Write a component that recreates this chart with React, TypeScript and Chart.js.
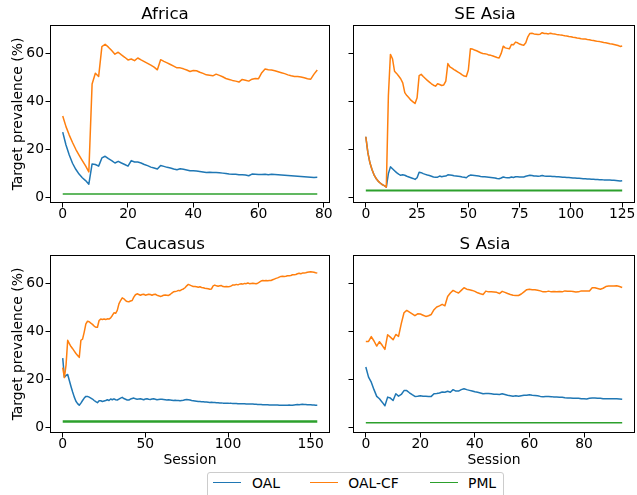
import React, { useEffect, useRef } from 'react';
import { Chart, registerables } from 'chart.js';

Chart.register(...registerables);

const FONT = "'DejaVu Sans', 'Liberation Sans', sans-serif";
const BLUE = '#1f77b4';
const ORANGE = '#ff7f0e';
const GREEN = '#2ca02c';

// ---------- data ----------
const seriesNames = ['OAL', 'OAL-CF', 'PML'];
const yTicks = [0, 20, 40, 60];
const yMin = -2.2;
const yMax = 71.7;

// Africa (sessions 0..78)
const africaTitle = 'Africa';
const africaXTicks = [0, 20, 40, 60, 80];
const africaOAL = [
  27.2, 21.9, 17.7, 14.3, 11.8, 9.8, 8.3, 7.1, 5.6, 14.0,
  13.8, 13.1, 16.5, 17.2, 16.2, 15.4, 14.4, 15.1, 14.4, 13.8,
  13.1, 15.4, 14.8, 14.8, 14.4, 13.8, 13.3, 12.7, 12.3, 11.9,
  13.4, 13.0, 12.6, 12.3, 11.9, 11.6, 12.0, 11.8, 11.5, 11.2,
  11.2, 11.1, 10.9, 10.7, 10.5, 10.6, 10.5, 10.5, 10.4, 10.2,
  10.0, 9.8, 9.7, 9.7, 9.5, 9.5, 9.4, 9.1, 9.8, 9.7,
  9.6, 9.6, 9.7, 9.5, 9.7, 9.6, 9.5, 9.4, 9.3, 9.2,
  9.1, 9.0, 8.9, 8.8, 8.7, 8.6, 8.5, 8.4, 8.5,
];
const africaOALCF = [
  33.9, 29.5, 26.0, 22.9, 20.1, 17.7, 15.4, 13.2, 10.7, 47.2,
  51.7, 50.3, 62.7, 63.7, 62.5, 61.1, 59.6, 60.4, 59.3, 58.3,
  57.2, 57.6, 56.9, 58.0, 57.2, 56.5, 55.8, 55.0, 54.2, 53.1,
  57.3, 56.6, 56.0, 55.3, 54.6, 53.9, 53.9, 53.5, 53.0, 52.4,
  52.8, 52.7, 52.1, 51.6, 51.0, 50.8, 50.6, 51.3, 50.8, 50.2,
  49.5, 49.1, 48.7, 48.4, 48.0, 49.1, 48.8, 48.4, 49.2, 49.5,
  49.4, 51.9, 53.4, 53.1, 53.0, 52.7, 52.3, 51.9, 51.5, 51.0,
  50.6, 50.3, 50.3, 50.1, 49.8, 49.4, 49.2, 51.3, 53.0,
];
const africaPML = 1.5;

// SE Asia (sessions 0..125)
const seAsiaTitle = 'SE Asia';
const seAsiaXTicks = [0, 25, 50, 75, 100, 125];
const seAsiaOAL = [
  25.3, 18.7, 14.5, 11.7, 9.5, 8.0, 6.9, 6.1, 5.4, 5.0,
  4.4, 10.0, 12.8, 12.0, 11.2, 10.4, 9.8, 9.3, 9.5, 9.3,
  8.9, 8.6, 8.3, 8.0, 7.6, 8.3, 10.6, 10.4, 10.0, 9.7,
  9.4, 9.2, 8.9, 8.6, 8.5, 8.5, 9.0, 8.7, 8.9, 9.0,
  9.5, 9.4, 9.3, 9.1, 9.0, 8.9, 8.8, 8.6, 8.5, 8.3,
  9.0, 9.4, 9.3, 9.2, 9.1, 9.0, 8.8, 8.7, 8.7, 8.6,
  8.5, 8.4, 8.3, 8.2, 8.0, 7.9, 8.2, 8.6, 8.4, 8.3,
  8.3, 8.6, 8.4, 8.7, 8.7, 8.6, 8.6, 8.6, 8.9, 9.1,
  9.3, 9.2, 9.0, 9.0, 8.9, 9.0, 9.2, 9.0, 8.9, 8.9,
  8.9, 8.8, 8.8, 8.7, 8.7, 8.6, 8.5, 8.5, 8.4, 8.4,
  8.3, 8.2, 8.2, 8.1, 8.1, 8.0, 7.9, 7.9, 7.8, 7.8,
  7.7, 7.7, 7.6, 7.6, 7.5, 7.5, 7.4, 7.4, 7.3, 7.3,
  7.2, 7.2, 7.1, 7.0, 6.9, 7.0,
];
const seAsiaOALCF = [
  25.3, 18.7, 14.5, 11.7, 9.5, 8.0, 6.9, 6.1, 5.4, 5.0,
  4.4, 42.2, 59.5, 57.7, 52.5, 51.6, 50.5, 49.4, 47.7, 43.6,
  42.4, 41.5, 40.5, 39.8, 39.1, 41.5, 50.7, 51.2, 50.3, 49.5,
  48.7, 48.0, 47.3, 46.7, 46.3, 47.3, 47.0, 46.6, 46.8, 48.4,
  55.7, 54.3, 53.8, 53.2, 52.7, 52.1, 51.6, 51.0, 50.5, 50.3,
  53.0, 61.8, 61.7, 61.3, 61.0, 60.6, 60.2, 59.9, 59.8, 59.6,
  59.2, 59.1, 58.8, 58.5, 58.2, 58.0, 59.9, 62.9, 62.2, 62.0,
  61.8, 63.6, 63.5, 64.6, 64.3, 63.8, 63.5, 63.3, 64.3, 66.8,
  68.2, 68.3, 68.0, 67.9, 67.8, 67.9, 68.5, 68.2, 68.2, 68.0,
  68.3, 68.1, 68.0, 67.8, 67.7, 67.5, 67.4, 67.2, 67.1, 66.9,
  66.8, 66.6, 66.5, 66.3, 66.2, 66.0, 65.9, 65.9, 65.7, 65.6,
  65.4, 65.3, 65.1, 64.9, 64.8, 64.6, 64.4, 64.3, 64.1, 63.9,
  63.8, 63.6, 63.4, 63.2, 62.8, 63.0,
];
const seAsiaPML = 3.0;

// Caucasus (sessions 0..154)
const caucasusTitle = 'Caucasus';
const caucasusXTicks = [0, 50, 100, 150];
const caucasusOAL = [
  28.9, 21.0, 21.7, 22.1, 19.6, 17.1, 14.8, 12.7, 11.0, 10.0,
  9.3, 10.2, 11.3, 12.3, 13.0, 13.0, 12.7, 12.3, 11.9, 11.3,
  10.8, 10.4, 11.2, 11.2, 10.9, 11.1, 11.3, 11.6, 11.3, 11.9,
  11.6, 12.0, 11.6, 11.5, 11.9, 12.3, 12.6, 12.1, 11.8, 11.5,
  11.5, 11.9, 12.1, 12.3, 12.0, 11.8, 11.9, 12.0, 11.8, 11.6,
  11.9, 12.0, 11.8, 11.7, 11.9, 12.0, 11.8, 11.6, 11.7, 11.8,
  11.8, 11.7, 11.6, 11.5, 11.6, 11.5, 11.4, 11.3, 11.4, 11.3,
  11.3, 11.2, 11.3, 11.4, 11.6, 11.7, 11.6, 11.5, 11.3, 11.2,
  11.1, 11.0, 10.9, 10.9, 10.8, 10.8, 10.7, 10.7, 10.6, 10.5,
  10.6, 10.5, 10.5, 10.4, 10.4, 10.3, 10.3, 10.2, 10.2, 10.2,
  10.2, 10.1, 10.1, 10.0, 10.0, 10.0, 9.9, 9.9, 9.9, 9.9,
  9.9, 9.8, 9.8, 9.8, 9.8, 9.8, 9.7, 9.7, 9.6, 9.6,
  9.6, 9.5, 9.5, 9.5, 9.5, 9.4, 9.4, 9.4, 9.4, 9.4,
  9.4, 9.3, 9.3, 9.3, 9.3, 9.3, 9.3, 9.4, 9.3, 9.3,
  9.4, 9.5, 9.6, 9.5, 9.6, 9.7, 9.6, 9.6, 9.5, 9.5,
  9.5, 9.4, 9.4, 9.3, 9.3,
];
const caucasusOALCF = [
  24.9, 20.8, 26.0, 36.3, 34.9, 33.7, 32.8, 31.8, 30.8, 30.0,
  29.2, 36.3, 36.8, 39.7, 43.1, 44.2, 44.0, 43.4, 42.9, 42.2,
  41.7, 41.7, 44.5, 45.1, 44.9, 45.1, 44.9, 45.2, 45.1, 45.6,
  46.6, 47.7, 47.5, 48.7, 51.4, 52.8, 53.9, 53.5, 52.8, 52.4,
  52.3, 52.6, 52.8, 54.2, 55.2, 55.6, 55.3, 55.0, 55.3, 55.4,
  55.0, 55.2, 55.4, 55.3, 55.0, 55.3, 55.4, 55.0, 54.8, 54.5,
  54.7, 55.0, 55.1, 55.0, 54.9, 55.3, 55.9, 56.4, 56.5, 56.7,
  57.0, 56.9, 57.3, 57.6, 58.1, 58.9, 59.5, 59.2, 58.9, 58.6,
  58.6, 58.5, 58.3, 58.5, 58.2, 58.1, 57.9, 57.8, 57.7, 57.5,
  57.6, 58.9, 59.2, 58.9, 58.7, 58.9, 59.0, 58.6, 58.5, 58.6,
  58.5, 58.6, 58.9, 59.3, 59.2, 59.5, 59.3, 59.6, 59.8, 59.6,
  59.9, 59.8, 60.1, 59.8, 59.9, 60.0, 59.9, 59.8, 60.0, 60.4,
  60.9, 61.1, 61.0, 61.1, 61.0, 61.1, 61.1, 61.4, 61.7, 62.0,
  62.2, 62.5, 62.8, 62.9, 62.8, 62.9, 63.1, 63.1, 63.2, 63.5,
  63.5, 63.6, 63.9, 64.1, 63.9, 64.2, 64.2, 64.3, 64.5, 64.6,
  64.7, 64.6, 64.5, 64.3, 64.2,
];
const caucasusPML = 2.6;

// S Asia (sessions 0..94)
const sAsiaTitle = 'S Asia';
const sAsiaXTicks = [0, 20, 40, 60, 80];
const sAsiaOAL = [
  25.2, 21.0, 18.9, 15.8, 13.0, 12.0, 10.6, 9.1, 12.7, 12.3,
  11.3, 14.1, 13.1, 13.8, 15.4, 15.4, 14.5, 13.7, 13.0, 13.1,
  13.3, 13.1, 13.1, 13.0, 13.0, 14.1, 14.2, 14.4, 14.8, 14.7,
  15.1, 14.7, 15.8, 15.2, 15.2, 15.8, 16.2, 15.8, 15.5, 15.2,
  14.9, 14.7, 14.4, 14.1, 14.2, 14.2, 14.1, 13.9, 13.9, 13.8,
  14.1, 13.8, 13.5, 13.3, 13.1, 13.3, 13.1, 13.3, 13.5, 13.5,
  13.7, 13.5, 13.4, 13.3, 13.0, 12.9, 13.0, 13.0, 12.9, 12.7,
  12.7, 12.6, 12.6, 12.4, 12.3, 12.3, 12.2, 12.2, 12.2, 12.0,
  12.0, 11.9, 12.2, 12.3, 12.3, 12.2, 12.2, 12.0, 12.0, 12.0,
  12.0, 12.0, 12.0, 11.9, 11.8,
];
const sAsiaOALCF = [
  35.8, 35.8, 37.8, 36.0, 33.9, 35.7, 34.2, 32.5, 38.6, 37.6,
  36.5, 38.7, 37.9, 43.2, 47.7, 48.7, 48.0, 47.3, 46.5, 47.3,
  47.2, 46.7, 46.2, 46.5, 47.0, 49.0, 50.1, 50.6, 51.2, 50.6,
  54.5, 55.9, 57.0, 56.4, 55.9, 57.0, 58.1, 57.5, 57.3, 57.0,
  56.6, 56.0, 55.6, 55.3, 56.7, 56.4, 56.4, 56.3, 56.2, 55.7,
  56.6, 56.2, 55.7, 55.3, 55.0, 54.9, 54.9, 55.5, 56.4, 57.3,
  57.5, 57.3, 57.3, 57.1, 56.8, 56.4, 56.4, 56.7, 56.4, 56.5,
  56.4, 56.5, 56.4, 56.8, 56.7, 56.7, 56.5, 56.3, 56.4, 56.8,
  56.8, 56.8, 56.8, 58.1, 58.1, 57.8, 57.5, 57.9, 58.6, 58.8,
  58.8, 58.8, 58.9, 58.6, 58.2,
];
const sAsiaPML = 2.1;

// ---------- chart helpers ----------
const boxPlugin = {
  id: 'spineBox',
  afterDraw(chart: any) {
    const { ctx, chartArea: a } = chart;
    ctx.save();
    ctx.strokeStyle = '#000';
    ctx.lineWidth = 1;
    const l = Math.round(a.left) + 0.5;
    const t = Math.round(a.top) + 0.5;
    const r = Math.round(a.right) - 0.5;
    const b = Math.round(a.bottom) - 0.5;
    ctx.strokeRect(l, t, r - l, b - t);
    ctx.restore();
  },
};

type PanelProps = {
  title: string;
  oal: number[];
  oalcf: number[];
  pml: number;
  pmlWidth: number;
  xTicks: number[];
  showYLabels: boolean;
  showXTitle: boolean;
  box: { left: number; top: number; width: number; height: number };
  area: { left: number; right: number; top: number; bottom: number };
  titleCenter: number;
};

function Panel(p: PanelProps) {
  const ref = useRef<HTMLCanvasElement | null>(null);
  useEffect(() => {
    const canvas = ref.current;
    if (!canvas) return;
    const n = p.oal.length - 1;
    const yAxisW = p.area.left - p.box.left;
    const padRight = p.box.left + p.box.width - p.area.right;
    const xAxisH = p.box.top + p.box.height - p.area.bottom;
    const titleLH = 16.7 * 1.2;
    const tPadTop = p.titleCenter - p.box.top - titleLH / 2;
    const tPadBottom = p.area.top - p.box.top - tPadTop - titleLH;
    const tickFont = { family: FONT, size: 13.9, lineHeight: 1 };
    const lineBase = {
      pointRadius: 0,
      tension: 0,
      borderJoinStyle: 'round',
      borderCapStyle: 'butt',
    };
    const chart = new Chart(canvas, {
      type: 'line',
      data: {
        datasets: [
          {
            ...lineBase,
            label: seriesNames[0],
            data: p.oal.map((v, i) => ({ x: i, y: v })),
            borderColor: BLUE,
            backgroundColor: BLUE,
            borderWidth: 1.5,
            order: 2,
          },
          {
            ...lineBase,
            label: seriesNames[1],
            data: p.oalcf.map((v, i) => ({ x: i, y: v })),
            borderColor: ORANGE,
            backgroundColor: ORANGE,
            borderWidth: 1.5,
            order: 1,
          },
          {
            ...lineBase,
            label: seriesNames[2],
            data: [
              { x: 0, y: p.pml },
              { x: n, y: p.pml },
            ],
            borderColor: GREEN,
            backgroundColor: GREEN,
            borderWidth: p.pmlWidth,
            order: 0,
          },
        ],
      },
      options: {
        responsive: false,
        maintainAspectRatio: false,
        animation: false,
        devicePixelRatio: 1,
        layout: { padding: { left: 0, right: padRight, top: 0, bottom: 0 } },
        plugins: {
          legend: { display: false },
          tooltip: { enabled: false },
          title: {
            display: true,
            text: p.title,
            color: '#000',
            font: { family: FONT, size: 16.7, weight: 'normal', lineHeight: 1.2 },
            padding: { top: tPadTop, bottom: tPadBottom },
          },
        },
        scales: {
          x: {
            type: 'linear',
            min: -0.05 * n,
            max: 1.05 * n,
            afterBuildTicks: (s: any) => {
              s.ticks = p.xTicks.map((v) => ({ value: v }));
            },
            afterFit: (s: any) => {
              s.height = xAxisH;
              s.paddingLeft = 0;
              s.paddingRight = 0;
              s.paddingTop = 0;
              s.paddingBottom = 0;
            },
            grid: {
              display: true,
              drawOnChartArea: false,
              drawTicks: true,
              tickLength: 4.5,
              color: '#000',
              lineWidth: 1,
            },
            border: { display: false },
            ticks: {
              color: '#000',
              font: tickFont,
              padding: 0,
              maxRotation: 0,
              minRotation: 0,
              autoSkip: false,
            },
            title: {
              display: p.showXTitle,
              text: 'Session',
              color: '#000',
              font: { family: FONT, size: 13.9, lineHeight: 1.2 },
              padding: { top: 0, bottom: 1.7 },
            },
          },
          y: {
            type: 'linear',
            min: yMin,
            max: yMax,
            afterBuildTicks: (s: any) => {
              s.ticks = yTicks.map((v) => ({ value: v }));
            },
            afterFit: (s: any) => {
              s.width = yAxisW;
              s.paddingLeft = 0;
              s.paddingRight = 0;
              s.paddingTop = 0;
              s.paddingBottom = 0;
            },
            grid: {
              display: true,
              drawOnChartArea: false,
              drawTicks: true,
              tickLength: 4.5,
              color: '#000',
              lineWidth: 1,
            },
            border: { display: false },
            ticks: {
              display: p.showYLabels,
              color: '#000',
              font: tickFont,
              padding: 1.5,
              autoSkip: false,
            },
            title: {
              display: p.showYLabels,
              text: 'Target prevalence (%)',
              color: '#000',
              font: { family: FONT, size: 13.9, lineHeight: 1.2 },
              padding: { top: 9.7, bottom: 0 },
            },
          },
        },
      },
      plugins: [boxPlugin],
    } as any);
    return () => chart.destroy();
  }, []);
  return (
    <canvas
      ref={ref}
      width={p.box.width}
      height={p.box.height}
      style={{
        position: 'absolute',
        left: p.box.left,
        top: p.box.top,
        width: p.box.width,
        height: p.box.height,
      }}
    />
  );
}

function LegendItem({ color, label, lineLeft, textLeft }: { color: string; label: string; lineLeft: number; textLeft: number }) {
  return (
    <>
      <div
        style={{
          position: 'absolute',
          left: lineLeft,
          top: 482,
          width: 28,
          height: 0,
          borderTop: `1.5px solid ${color}`,
        }}
      />
      <div
        style={{
          position: 'absolute',
          left: textLeft,
          top: 476.6,
          fontFamily: FONT,
          fontSize: 13.9,
          lineHeight: 1,
          color: '#000',
          whiteSpace: 'nowrap',
        }}
      >
        {label}
      </div>
    </>
  );
}

export default function App() {
  return (
    <div
      style={{
        position: 'fixed',
        left: 0,
        top: 0,
        width: 637,
        height: 495,
        background: '#fff',
        overflow: 'hidden',
      }}
    >
      <Panel
        title={africaTitle}
        oal={africaOAL}
        oalcf={africaOALCF}
        pml={africaPML}
        pmlWidth={1.5}
        xTicks={africaXTicks}
        showYLabels={true}
        showXTitle={false}
        box={{ left: 0, top: 0, width: 335, height: 228 }}
        area={{ left: 50, right: 330, top: 25, bottom: 203 }}
        titleCenter={14.5}
      />
      <Panel
        title={seAsiaTitle}
        oal={seAsiaOAL}
        oalcf={seAsiaOALCF}
        pml={seAsiaPML}
        pmlWidth={2}
        xTicks={seAsiaXTicks}
        showYLabels={false}
        showXTitle={false}
        box={{ left: 335, top: 0, width: 302, height: 228 }}
        area={{ left: 353, right: 635, top: 25, bottom: 203 }}
        titleCenter={14.5}
      />
      <Panel
        title={caucasusTitle}
        oal={caucasusOAL}
        oalcf={caucasusOALCF}
        pml={caucasusPML}
        pmlWidth={2.5}
        xTicks={caucasusXTicks}
        showYLabels={true}
        showXTitle={true}
        box={{ left: 0, top: 228, width: 335, height: 242 }}
        area={{ left: 50, right: 330, top: 255, bottom: 433 }}
        titleCenter={245}
      />
      <Panel
        title={sAsiaTitle}
        oal={sAsiaOAL}
        oalcf={sAsiaOALCF}
        pml={sAsiaPML}
        pmlWidth={1.5}
        xTicks={sAsiaXTicks}
        showYLabels={false}
        showXTitle={true}
        box={{ left: 335, top: 228, width: 302, height: 242 }}
        area={{ left: 353, right: 635, top: 255, bottom: 433 }}
        titleCenter={245}
      />
      <div
        style={{
          position: 'absolute',
          left: 206.5,
          top: 472,
          width: 297,
          height: 40,
          border: '1px solid #cccccc',
          borderRadius: 3,
          boxSizing: 'border-box',
          background: 'rgba(255,255,255,0.8)',
        }}
      />
      <LegendItem color={BLUE} label={seriesNames[0]} lineLeft={212.7} textLeft={252} />
      <LegendItem color={ORANGE} label={seriesNames[1]} lineLeft={310} textLeft={348.3} />
      <LegendItem color={GREEN} label={seriesNames[2]} lineLeft={429.5} textLeft={468} />
    </div>
  );
}
